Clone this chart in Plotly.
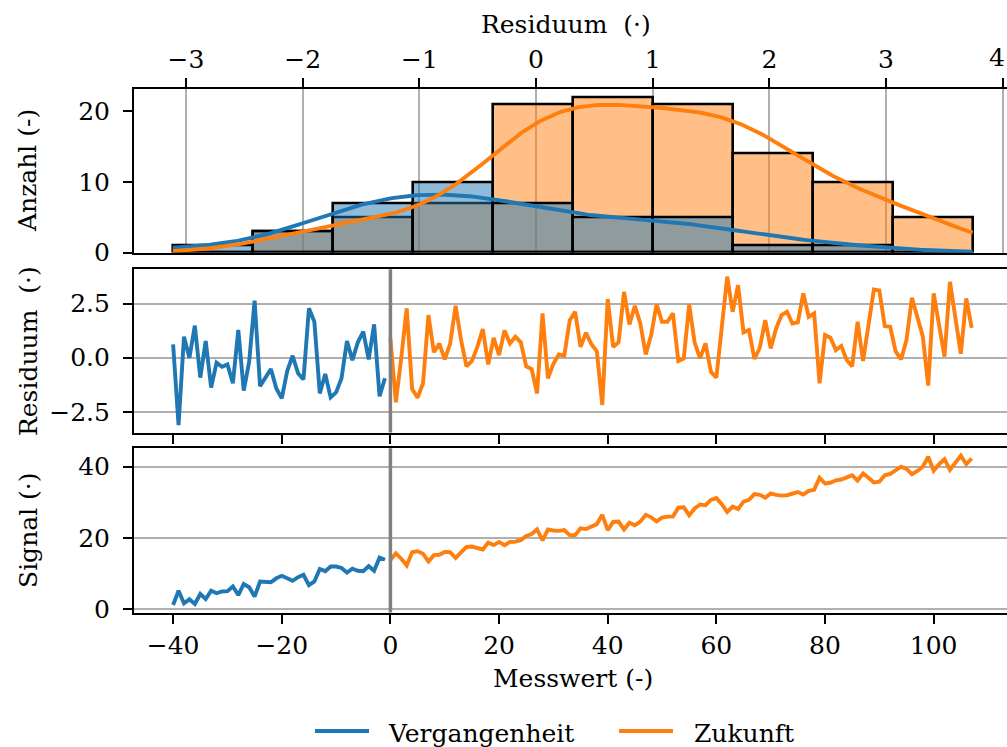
import numpy as np
import plotly.graph_objects as go

W = 1007
H_REF = 747          # height of the reference picture
H = 762              # figure height used for layout (render is fitted to 747 high)

# ---------------- data ----------------
past_x = list(range(-40, 0))
future_x = list(range(0, 108))

past_resid = [0.62, -3.114, 0.97, 0.0, 1.48, -0.92, 0.77, -1.38, -0.23, -0.42,
              -0.31, -1.18, 1.28, -1.52, -0.18, 2.63, -1.31, -0.95, -0.52, -1.42,
              -1.88, -0.62, 0.09, -0.72, -1.00, 2.28, 1.66, -1.65, -0.75, -1.83,
              -1.60, -0.95, 0.77, -0.11, 0.71, 1.20, -0.08, 1.54, -1.78, -0.95]

future_resid = [0.90, -2.06, 0.00, 2.28, -1.45, -1.85, -1.18, 1.97, 0.25, 0.65,
                -0.08, 0.65, 2.40, 0.82, -0.40, -0.15, 0.50, 1.32, -0.31, 0.92,
                0.12, 1.26, 0.66, 0.97, 0.71, -0.40, -0.52, -1.65, 2.05, -0.95,
                -0.28, 0.15, 0.09, 1.72, 2.12, 0.50, 1.15, 0.62, 0.29, -2.18,
                2.71, 0.50, 0.71, 3.04, 1.54, 2.40, 1.58, 0.15, 1.05, 2.46,
                1.66, 1.66, 2.05, -0.15, -0.03, 2.46, 0.70, -0.03, 0.66, -0.65,
                -0.92, 1.40, 3.743, 2.12, 3.35, 1.17, 1.28, -0.06, 0.46, 1.74,
                0.43, 1.35, 1.97, 2.12, 1.58, 1.63, 2.97, 1.89, 2.05, -1.18,
                1.05, 0.92, 0.35, 0.54, -0.11, -0.40, 1.66, -0.15, 1.50, 3.15,
                3.11, 1.46, 1.43, 0.29, -0.08, 0.82, 2.77, 1.89, 0.98, -1.29,
                2.97, 1.51, 0.05, 3.50, 1.82, 0.18, 2.74, 1.38]

past_signal = [1.2, 5.2, 1.7, 2.8, 1.5, 4.3, 2.9, 5.2, 4.5, 5.0,
               5.1, 6.4, 4.0, 7.1, 6.2, 3.6, 7.8, 7.8, 7.6, 8.7,
               9.4, 8.7, 8.0, 9.0, 9.7, 6.8, 7.8, 11.3, 10.7, 12.0,
               12.0, 11.6, 10.3, 11.4, 10.8, 10.7, 12.1, 10.8, 14.5, 13.9]

future_signal = [13.8, 15.7, 14.2, 12.3, 16.0, 16.3, 15.6, 13.4, 15.2, 15.3,
                 16.1, 16.0, 14.4, 16.1, 17.5, 17.6, 17.2, 16.8, 18.7, 18.0,
                 18.9, 18.0, 18.9, 19.0, 19.4, 20.6, 21.1, 22.4, 19.3, 22.4,
                 22.1, 22.0, 22.2, 20.8, 20.8, 22.7, 22.5, 23.2, 23.9, 26.5,
                 22.2, 24.5, 24.6, 22.4, 24.3, 23.6, 24.6, 26.5, 25.8, 24.7,
                 25.7, 26.0, 26.0, 28.5, 28.6, 26.4, 28.3, 29.4, 29.2, 30.7,
                 31.2, 29.5, 27.3, 28.8, 28.1, 30.2, 30.7, 32.3, 32.1, 31.3,
                 32.5, 32.1, 31.9, 32.0, 32.5, 32.9, 32.2, 33.2, 33.5, 36.9,
                 35.3, 35.5, 36.2, 36.4, 37.0, 37.6, 36.1, 38.1, 36.9, 35.6,
                 35.8, 37.6, 38.0, 39.1, 40.0, 39.4, 37.9, 38.8, 40.0, 42.8,
                 38.9, 40.7, 42.1, 39.1, 41.1, 43.1, 40.7, 42.3]

series_names = ["Vergangenheit", "Zukunft"]
hist_ticks = [-3, -2, -1, 0, 1, 2, 3, 4]
count_ticks = [0, 10, 20]
x_ticks = [-40, -20, 0, 20, 40, 60, 80, 100]
resid_ticks = [-2.5, 0.0, 2.5]
signal_ticks = [0, 20, 40]

# ---------------- style ----------------
BLUE, ORANGE = "#1f77b4", "#ff7f0e"
FONT = "DejaVu Serif"
FS = 25
LW = 3.9
AX_LW = 2.1
GRID = "#b0b0b0"


def px(x):
    return x / W


def py(y):
    # y given in reference pixels (747 high picture)
    return 1 - y / H_REF


# ---------------- histogram + kde ----------------
all_res = np.array(past_resid + future_resid)
edges = np.linspace(all_res.min(), all_res.max(), 11)
bw = edges[1] - edges[0]
centers = (edges[:-1] + edges[1:]) / 2
cnt_past, _ = np.histogram(past_resid, bins=edges)
cnt_fut, _ = np.histogram(future_resid, bins=edges)

grid = np.linspace(edges[0], edges[-1], 300)


def kde(vals):
    v = np.asarray(vals, dtype=float)
    n = len(v)
    sigma = v.std(ddof=1) * n ** (-0.2)
    dens = np.exp(-0.5 * ((grid[:, None] - v[None, :]) / sigma) ** 2).sum(axis=1)
    dens /= n * sigma * np.sqrt(2 * np.pi)
    return dens * n * bw


fig = go.Figure()

fig.add_trace(go.Bar(x=centers, y=cnt_fut, width=bw, xaxis="x", yaxis="y",
                     marker=dict(color="rgba(255,127,14,0.5)", line=dict(color="black", width=2.6)),
                     showlegend=False, name=series_names[1]))
fig.add_trace(go.Bar(x=centers, y=cnt_past, width=bw, xaxis="x", yaxis="y",
                     marker=dict(color="rgba(31,119,180,0.5)", line=dict(color="black", width=2.6)),
                     showlegend=False, name=series_names[0]))
fig.add_trace(go.Scatter(x=grid, y=kde(past_resid), mode="lines", xaxis="x", yaxis="y",
                         line=dict(color=BLUE, width=LW), showlegend=False))
fig.add_trace(go.Scatter(x=grid, y=kde(future_resid), mode="lines", xaxis="x", yaxis="y",
                         line=dict(color=ORANGE, width=LW), showlegend=False))

# residual panel
fig.add_trace(go.Scatter(x=past_x, y=past_resid, mode="lines", xaxis="x2", yaxis="y2",
                         line=dict(color=BLUE, width=LW), showlegend=False))
fig.add_trace(go.Scatter(x=future_x, y=future_resid, mode="lines", xaxis="x2", yaxis="y2",
                         line=dict(color=ORANGE, width=LW), showlegend=False))
# signal panel
fig.add_trace(go.Scatter(x=past_x, y=past_signal, mode="lines", xaxis="x3", yaxis="y3",
                         line=dict(color=BLUE, width=LW), showlegend=False))
fig.add_trace(go.Scatter(x=future_x, y=future_signal, mode="lines", xaxis="x3", yaxis="y3",
                         line=dict(color=ORANGE, width=LW), showlegend=False))

xdom = [px(134), 1.0]
dom_top = [py(252.5), py(89.3)]
dom_mid = [py(432.6), py(269.2)]
dom_bot = [py(612.5), py(448.2)]

common_ax = dict(showline=True, linecolor="black", linewidth=AX_LW, ticks="outside",
                 ticklen=9, tickwidth=AX_LW, tickcolor="black", zeroline=False,
                 tickfont=dict(family=FONT, size=FS, color="black"))

res_all_min, res_all_max = all_res.min(), all_res.max()
pad_r = 0.05 * (res_all_max - res_all_min)
sig_all = np.array(past_signal + future_signal)
pad_s = 0.05 * (sig_all.max() - sig_all.min())

YSTAND = 8

fig.update_layout(
    width=W, height=H, autosize=False,
    margin=dict(l=0, r=0, t=0, b=0),
    paper_bgcolor="white", plot_bgcolor="white",
    font=dict(family=FONT, size=FS, color="black"),
    barmode="overlay", bargap=0,
    xaxis=dict(domain=xdom, anchor="y", side="top", range=[-3.446, 4.037],
               tickvals=hist_ticks, mirror=True, showgrid=True, gridcolor=GRID,
               gridwidth=2, **common_ax),
    yaxis=dict(domain=dom_top, anchor="x", range=[0, 23.1], tickvals=count_ticks,
               showgrid=False, ticklabelstandoff=YSTAND, **common_ax),
    xaxis2=dict(domain=xdom, anchor="y2", range=[-47.2, 113.5], tickvals=x_ticks,
                showticklabels=False, mirror=True, showgrid=False, **common_ax),
    yaxis2=dict(domain=dom_mid, anchor="x2", range=[res_all_min - pad_r, res_all_max + pad_r],
                tickvals=resid_ticks, tickformat=".1f", showgrid=True, gridcolor=GRID,
                gridwidth=2, ticklabelstandoff=YSTAND, **common_ax),
    xaxis3=dict(domain=xdom, anchor="y3", range=[-47.2, 113.5], tickvals=x_ticks,
                mirror=True, showgrid=False, **common_ax),
    yaxis3=dict(domain=dom_bot, anchor="x3",
                range=[sig_all.min() - pad_s, sig_all.max() + pad_s],
                tickvals=signal_ticks, showgrid=True, gridcolor=GRID, gridwidth=2,
                ticklabelstandoff=YSTAND, **common_ax),
)

shapes = []
for xa, ya in (("x2", "y2"), ("x3", "y3")):
    shapes.append(dict(type="line", xref=xa, yref=f"{ya} domain", x0=0, x1=0, y0=0, y1=1,
                       line=dict(color="#808080", width=3.5), layer="above"))

# legend (drawn manually to match the sample line length)
leg_y = 731
shapes.append(dict(type="line", xref="paper", yref="paper", x0=px(315), x1=px(369),
                   y0=py(leg_y), y1=py(leg_y), line=dict(color=BLUE, width=LW)))
shapes.append(dict(type="line", xref="paper", yref="paper", x0=px(619), x1=px(673),
                   y0=py(leg_y), y1=py(leg_y), line=dict(color=ORANGE, width=LW)))
fig.update_layout(shapes=shapes)

ann = []


def text(s, x, y, xanchor="center", angle=0):
    ann.append(dict(text=s, x=px(x), y=py(y), xref="paper", yref="paper",
                    xanchor=xanchor, yanchor="middle", showarrow=False, textangle=angle,
                    font=dict(family=FONT, size=FS, color="black")))


text(series_names[0], 386, 733, xanchor="left")
text(series_names[1], 692, 733, xanchor="left")
text("Residuum\u00a0 (·)", 566, 25)
text("Messwert (-)", 572.6, 678)
text("Anzahl (-)", 28, 171, angle=-90)
text("Residuum\u00a0 (·)", 28, 351, angle=-90)
text("Signal (·)", 28, 530, angle=-90)
# last top tick label sits on the figure edge: keep it inside the page
ann.append(dict(text=str(hist_ticks[-1]), x=1.0, y=py(57), xref="paper", yref="paper",
                xanchor="right", yanchor="middle", showarrow=False,
                font=dict(family=FONT, size=FS, color="black")))
fig.update_layout(annotations=ann)

fig.write_html("out.html")
